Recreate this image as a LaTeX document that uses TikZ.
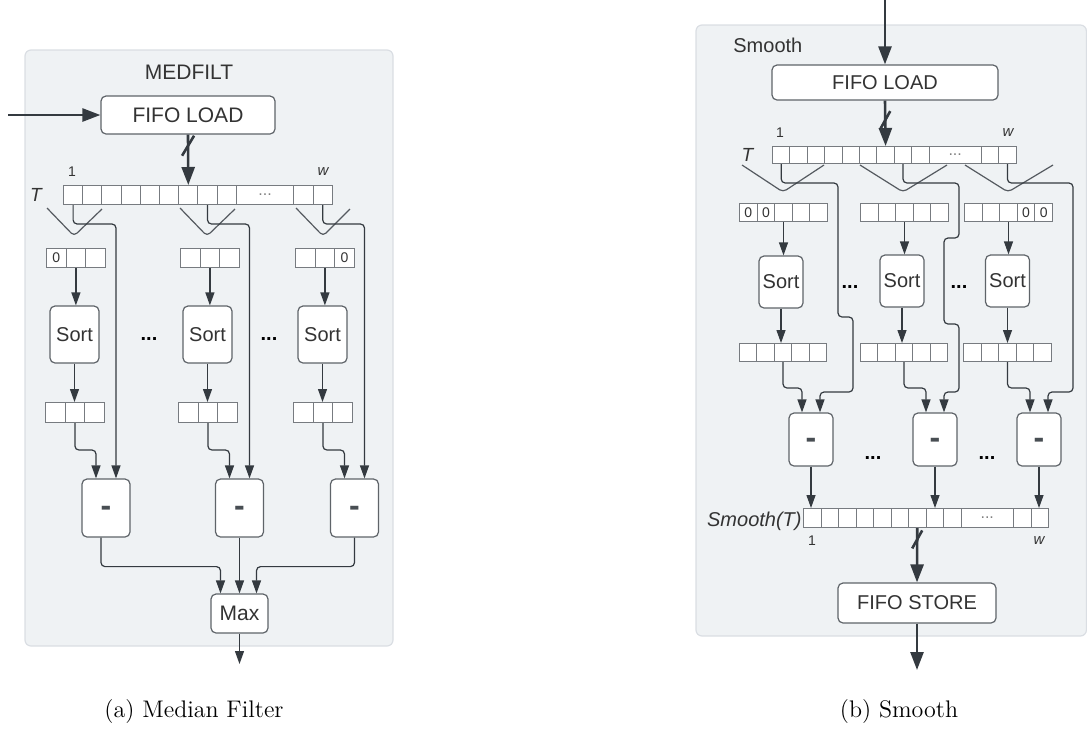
\documentclass[tikz,border=0pt]{standalone}
\usepackage{fontspec}
\usepackage{xcolor}
\usetikzlibrary{arrows.meta}
\usetikzlibrary{positioning}
\newfontfamily\lucid{Liberation Sans}

\definecolor{panelfill}{RGB}{239,242,244}
\definecolor{panelline}{RGB}{218,222,227}
\definecolor{wiregray}{RGB}{85,90,96}
\definecolor{darkwire}{RGB}{52,58,64}
\definecolor{boxline}{RGB}{95,100,105}
\definecolor{inktext}{RGB}{51,51,51}

% row of cells: name, left x, top y, cell width, height, contents
\newcommand{\cellrow}[6]{%
  \foreach \cv [count=\k] in {#6}
    \node[cell, minimum width=#4*0.5pt, minimum height=#5*0.5pt] (#1-\k) at ({#2+(\k-1)*#4},#3) {\cv};
}

\begin{document}
\begin{tikzpicture}[x=0.5pt, y=-0.5pt, font=\lucid, text=inktext]
\tikzstyle{panel} = [fill=panelfill, draw=panelline, line width=0.6pt, rounded corners=3pt]
\tikzstyle{blk} = [draw=boxline, fill=white, line width=0.6pt, rounded corners=2.5pt, inner sep=0pt, font=\lucid\fontsize{10}{12}\selectfont]
\tikzstyle{cell} = [draw=boxline!85, fill=white, line width=0.5pt, inner sep=0pt, anchor=north west, font=\lucid\fontsize{7}{8}\selectfont]
\tikzstyle{wire} = [draw=wiregray, line width=0.6pt, rounded corners=2pt]
\tikzstyle{thin} = [wire, draw=darkwire, -{Triangle[length=6.5pt,width=4.5pt]}]
\tikzstyle{bus} = [draw=darkwire, line width=1.3pt, -{Triangle[length=9pt,width=6.5pt]}]
\tikzstyle{minus} = [font=\lucid\bfseries\fontsize{16}{16}\selectfont, text=darkwire!90, text height=8.6pt, text depth=0pt, inner sep=0pt]
\tikzstyle{gap} = [inner sep=0pt, font=\lucid\bfseries\fontsize{10}{10}\selectfont, text=black]
\tikzstyle{idx} = [inner sep=0pt, font=\lucid\fontsize{7}{8}\selectfont]

\useasboundingbox (0,0) rectangle (1087,751);

%%% (a) MEDFILT
\path[panel] (25,50) rectangle (393,646);
\node[inner sep=0pt, font=\lucid\fontsize{10.5}{12}\selectfont] (medfilt) at (189,72.5) {MEDFILT};
\node[blk, minimum width=87pt, minimum height=19pt, font=\lucid\fontsize{10.5}{12}\selectfont] (loadA) at (188,115) {FIFO LOAD};
\coordinate (inA) at (8,115);

\cellrow{TA}{63}{185}{19.2}{19}{{},{},{},{},{},{},{},{},{}}
\node[cell, minimum width=28.8pt, minimum height=9.5pt, text=gray, font=\lucid\fontsize{8}{8}\selectfont] (TA-dots) at (235.8,185) {...};
\node[cell, minimum width=9.6pt, minimum height=9.5pt] (TA-13) at (293.4,185) {};
\node[cell, minimum width=9.6pt, minimum height=9.5pt] (TA-14) at (312.6,185) {};
\node[inner sep=0pt, font=\lucid\itshape\fontsize{9.5}{10}\selectfont] (TAname) at (36,195) {T};
\node[idx] (TAfirst) at (72,172) {1};
\node[idx, font=\lucid\itshape\fontsize{7.5}{8}\selectfont] (TAlast) at (323,172) {w};

\draw[bus] (inA) -- (loadA);
\draw[bus] (loadA.south) -- coordinate[pos=0.22] (busA) (TA-7.north);
\draw[draw=darkwire, line width=1.3pt] ([shift={(-6,10)}]busA) -- ([shift={(6,-10)}]busA);

% windows
\draw[wire] (47,208) -- (74,236) -- (102,209);
\draw[wire] (180,208) -- (207,236) -- (235,209);
\draw[wire] (296,208) -- (323,236) -- (350,209);

\cellrow{SA1}{46}{248}{19.6}{19}{0,{},{}}
\cellrow{SA2}{180}{248}{19.6}{19}{{},{},{}}
\cellrow{SA3}{295}{248}{19.6}{19}{{},{},0}

\node[blk, minimum width=24.5pt, minimum height=28.5pt] (sortA1) at (74.5,334.5) {Sort};
\node[blk, minimum width=24.5pt, minimum height=28.5pt] (sortA2) at (207.5,334.5) {Sort};
\node[blk, minimum width=24.5pt, minimum height=28.5pt] (sortA3) at (322.5,334.5) {Sort};
\node[gap] (gapA1) at (149,339) {...};
\node[gap] (gapA2) at (269,339) {...};

\cellrow{LA1}{45}{402}{19.6}{20}{{},{},{}}
\cellrow{LA2}{178}{402}{19.6}{20}{{},{},{}}
\cellrow{LA3}{293}{402}{19.6}{20}{{},{},{}}

\node[blk, minimum width=24pt, minimum height=29pt] (minA) at (106,508) {};
\node[blk, minimum width=24pt, minimum height=29pt] (minB) at (239.5,508) {};
\node[blk, minimum width=24pt, minimum height=29pt] (minC) at (354.5,508) {};
\node[minus] at (minA) {-};
\node[minus] at (minB) {-};
\node[minus] at (minC) {-};

\node[blk, minimum width=28.5pt, minimum height=19.5pt, font=\lucid\fontsize{10.5}{12}\selectfont] (maxA) at (239.5,613.5) {Max};
\coordinate (outA) at (239.5,664);

\foreach \i in {1,2,3} {
  \draw[thin] (SA\i-2.south) -- (SA\i-2.south |- sortA\i.north);
  \draw[thin] (sortA\i.south) -- (sortA\i.south |- LA\i-2.north);
}
\draw[thin] (TA-1.south) -- ++(0,19) -| ([xshift=5pt]minA.north);
\draw[thin] (TA-8.south) -- ++(0,19) -| ([xshift=5pt]minB.north);
\draw[thin] (TA-14.south) -- ++(0,19) -| ([xshift=5pt]minC.north);
\draw[thin] (LA1-2.south) -- ++(0,27) -| ([xshift=-5pt]minA.north);
\draw[thin] (LA2-2.south) -- ++(0,27) -| ([xshift=-5pt]minB.north);
\draw[thin] (LA3-2.south) -- ++(0,27) -| ([xshift=-5pt]minC.north);
\draw[thin] ([xshift=-2.5pt]minA.south) -- ++(0,29) -| ([xshift=-9.5pt]maxA.north);
\draw[thin] (minB.south) -- (maxA.north);
\draw[thin] (minC.south) -- ++(0,29) -| ([xshift=8.5pt]maxA.north);
\draw[thin] (maxA.south) -- (outA);

%%% (b) Smooth
\path[panel] (696,25) rectangle (1086.4,636);
\node[inner sep=0pt, anchor=west] (smoothname) at (733,45.5) {Smooth};
\coordinate (inB) at (885,0);
\node[blk, minimum width=113pt, minimum height=17.5pt] (loadB) at (885,82.5) {FIFO LOAD};

\cellrow{TB}{772}{146}{17.4}{17}{{},{},{},{},{},{},{},{},{}}
\node[cell, minimum width=26.1pt, minimum height=8.5pt, text=gray, font=\lucid\fontsize{8}{8}\selectfont] (TB-dots) at (928.6,146) {...};
\node[cell, minimum width=8.7pt, minimum height=8.5pt] (TB-13) at (980.8,146) {};
\node[cell, minimum width=8.7pt, minimum height=8.5pt] (TB-14) at (998.2,146) {};
\node[inner sep=0pt, font=\lucid\itshape\fontsize{9.5}{10}\selectfont] (TBname) at (747.5,155) {T};
\node[idx] (TBfirst) at (780,133) {1};
\node[idx, font=\lucid\itshape\fontsize{7.5}{8}\selectfont] (TBlast) at (1008,133) {w};

\draw[bus] (inB) -- (loadB.north);
\draw[bus] (loadB.south) -- coordinate[pos=0.43] (busB) (TB-7.north);
\draw[draw=darkwire, line width=1.3pt] ([shift={(-5,9)}]busB) -- ([shift={(5,-9)}]busB);

% windows
\draw[wire] (742,165) -- (783,192) -- (824,165);
\draw[wire] (860,165) -- (903,192) -- (947,165);
\draw[wire] (965,165) -- (1008,192) -- (1053,165);

\cellrow{SB1}{739}{203}{17.6}{18}{0,0,{},{},{}}
\cellrow{SB2}{860}{203}{17.6}{18}{{},{},{},{},{}}
\cellrow{SB3}{964}{203}{17.6}{18}{{},{},{},0,0}

\node[blk, minimum width=22pt, minimum height=26pt] (sortB1) at (781,282) {Sort};
\node[blk, minimum width=22pt, minimum height=26pt] (sortB2) at (902,281) {Sort};
\node[blk, minimum width=22pt, minimum height=26pt] (sortB3) at (1007.5,281) {Sort};
\node[gap] (gapB1) at (850,287) {...};
\node[gap] (gapB2) at (959,287) {...};

\cellrow{LB1}{739}{343}{17.4}{18}{{},{},{},{},{}}
\cellrow{LB2}{860}{343}{17.4}{18}{{},{},{},{},{}}
\cellrow{LB3}{963}{343}{17.6}{18}{{},{},{},{},{}}

\node[blk, minimum width=22pt, minimum height=26.5pt] (minD) at (811,439.5) {};
\node[blk, minimum width=22pt, minimum height=26.5pt] (minE) at (935,439.5) {};
\node[blk, minimum width=22pt, minimum height=26.5pt] (minF) at (1039,439.5) {};
\node[minus] at (minD) {-};
\node[minus] at (minE) {-};
\node[minus] at (minF) {-};
\node[gap] (gapB3) at (873,458) {...};
\node[gap] (gapB4) at (987,458) {...};

\cellrow{ST}{803}{508}{17.5}{19}{{},{},{},{},{},{},{},{},{}}
\node[cell, minimum width=26.25pt, minimum height=9.5pt, text=gray, font=\lucid\fontsize{8}{8}\selectfont] (ST-dots) at (960.5,508) {...};
\node[cell, minimum width=8.75pt, minimum height=9.5pt] (ST-13) at (1013,508) {};
\node[cell, minimum width=8.75pt, minimum height=9.5pt] (ST-14) at (1030.5,508) {};
\node[inner sep=0pt, anchor=base east, font=\lucid\itshape\fontsize{10}{10}\selectfont] (STname) at (802,526) {Smooth(T)};
\node[idx] (STfirst) at (812,541) {1};
\node[idx, font=\lucid\itshape\fontsize{7.5}{8}\selectfont] (STlast) at (1039,541) {w};

\node[blk, minimum width=79pt, minimum height=20pt] (storeB) at (917,603) {FIFO STORE};
\coordinate (outB) at (917,670);

\foreach \i in {1,2,3} {
  \draw[thin] (SB\i-3.south) -- (SB\i-3.south |- sortB\i.north);
  \draw[thin] (sortB\i.south) -- (sortB\i.south |- LB\i-3.north);
}
\draw[thin] (TB-1.south) -- ++(0,19) -| (838,317) -| (853,392) -| ([xshift=4.5pt]minD.north);
\draw[thin] (TB-8.south) -- ++(0,19) -| (959,238) -| (944,324) -| (959,392) -| ([xshift=4.5pt]minE.north);
\draw[thin] (TB-14.south) -- ++(0,19) -| (1073,392) -| ([xshift=4.5pt]minF.north);
\draw[thin] (LB1-3.south) -- ++(0,26) -| ([xshift=-4.5pt]minD.north);
\draw[thin] (LB2-3.south) -- ++(0,26) -| ([xshift=-4.5pt]minE.north);
\draw[thin] (LB3-3.south) -- ++(0,26) -| ([xshift=-4.5pt]minF.north);
\draw[thin] (minD.south) -- (minD.south |- ST-1.north);
\draw[thin] (minE.south) -- (minE.south |- ST-8.north);
\draw[thin] (minF.south) -- (minF.south |- ST-14.north);

\draw[bus] (ST-7.south) -- coordinate[pos=0.21] (busC) (storeB.north);
\draw[draw=darkwire, line width=1.3pt] ([shift={(-5,9)}]busC) -- ([shift={(5,-9)}]busC);
\draw[bus] (storeB.south) -- (outB);

% captions
\node[anchor=base, font=\rmfamily\fontsize{12}{14}\selectfont, text=black] (capA) at (194,717) {(a) Median Filter};
\node[anchor=base, font=\rmfamily\fontsize{12}{14}\selectfont, text=black] (capB) at (899,717) {(b) Smooth};
\end{tikzpicture}
\end{document}
